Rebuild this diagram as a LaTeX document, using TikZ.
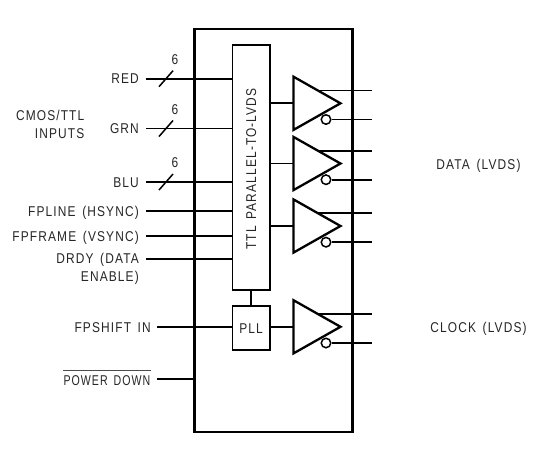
\documentclass[tikz,border=0pt]{standalone}
\usepackage{graphicx}
\usepackage{fontspec}
\setmainfont[FakeStretch=0.84,LetterSpace=8,WordSpace=1.5]{Liberation Sans}
\begin{document}
\begin{tikzpicture}[x=1pt,y=-1pt,
  wire/.style={line width=1.8pt},
  outwire/.style={line width=1.6pt},
  chipbox/.style={draw,line width=2.8pt,inner sep=0pt,minimum width=158pt,minimum height=403pt,anchor=north west},
  blockbox/.style={draw,line width=1.6pt,inner sep=0pt,fill=white,minimum width=37.6pt,anchor=north west},
  lbl/.style={inner sep=0pt,font=\fontsize{14.2}{16}\selectfont,text=black!85,text height=10.2pt,text depth=0pt},
  rlbl/.style={lbl,anchor=east},
  slash/.style={line width=1.5pt},
  buf/.style={draw,line width=2.3pt,line join=miter,fill=white},
  bub/.style={draw,circle,line width=1.5pt,minimum size=9.5pt,inner sep=0pt,fill=white}]
\useasboundingbox (0,0) rectangle (538,448);
\fill[white] (0,0) rectangle (538,448);
\node[chipbox] (chip) at (193,27.5) {};
\node[blockbox,minimum height=245pt] (conv) at (231.5,44.3) {};
\node[blockbox,minimum height=44.3pt] (pll) at (231.5,305) {};
\node[lbl,rotate=90] (convlabel) at (conv.center |- 0,169) {TTL PARALLEL-TO-LVDS};
\node[lbl] (plllabel) at (pll.center) {PLL};
\draw[wire] (conv.south) -- (pll.north);
% bus and single inputs
\foreach \nm/\txt/\yy in {red/RED/78.7,grn/GRN/128.5,blu/BLU/182,fpl/FPLINE (HSYNC)/211,fpf/FPFRAME (VSYNC)/236,drd/DRDY (DATA/258.7}{
  \node[rlbl] (\nm) at (139,\yy) {\txt};
  \coordinate (\nm-s) at (146,\yy);
  \draw[wire] (\nm-s) -- (conv.west |- \nm-s);
}
\foreach \nm/\yy in {red/78.7,grn/128.5,blu/182}{
  \coordinate (\nm-c) at (166,\yy);
  \draw[slash] ([shift={(-7,8)}]\nm-c) -- ([shift={(7,-8)}]\nm-c);
  \node[lbl] (\nm-six) at ([shift={(9,-19.5)}]\nm-c) {6};
}
\node[rlbl] (drd2) at (139,276) {ENABLE)};
\node[rlbl] (cmos) at (84.5,115) {CMOS/TTL};
\node[rlbl] (inputs) at (84.5,133) {INPUTS};
\node[rlbl] (fps) at (151,327) {FPSHIFT IN};
\coordinate (fps-s) at (157,327);
\draw[wire] (fps-s) -- (pll.west |- fps-s);
\node[rlbl] (pd) at (150.5,380) {\scalebox{0.89}[1]{POWER DOWN}};
\coordinate (pd-s) at (157,379.3);
\draw[wire] (pd-s) -- (chip.west |- pd-s);
\draw[line width=.8pt,black!70] ([shift={(0,-4)}]pd.north west) -- ([shift={(0,-4)}]pd.north east);
% drivers
\foreach \nm/\yy/\src in {a/103.3/conv,b/163.5/conv,c/226/conv,d/326.8/pll}{
  \coordinate (\nm-in) at (293.5,\yy);
  \coordinate (\nm-top) at (293.5,\yy-26.6);
  \coordinate (\nm-bot) at (293.5,\yy+26.6);
  \coordinate (\nm-tip) at (340.5,\yy);
  \coordinate (\nm-p) at (318,\yy-12.8);
  \coordinate (\nm-po) at (372,\yy-12.8);
  \coordinate (\nm-no) at (372,\yy+16.2);
  \draw[wire] (\src.east |- \nm-in) -- (\nm-in);
  \draw[outwire] (\nm-p) -- (\nm-po);
  \draw[buf] (\nm-top) -- (\nm-tip) -- (\nm-bot) -- cycle;
  \node[bub] (\nm-b) at (326,\yy+16.2) {};
  \draw[outwire] (\nm-b) -- (\nm-no);
}
\node[lbl] (data) at (478.5,164) {DATA (LVDS)};
\node[lbl] (clock) at (478.5,327) {CLOCK (LVDS)};
\end{tikzpicture}
\end{document}
